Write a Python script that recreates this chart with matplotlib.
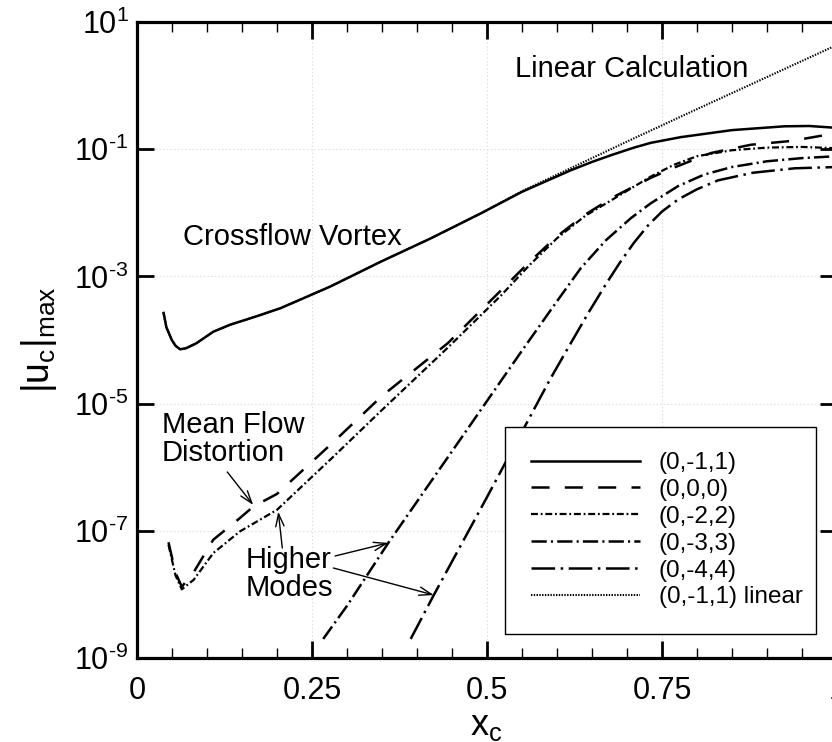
import numpy as np
import matplotlib.pyplot as plt
from matplotlib.ticker import FixedLocator, FixedFormatter, MultipleLocator

# Crossflow vortex amplitudes |u_c|_max vs x_c (log10 values)
x_011 = [0.038, 0.042, 0.0497, 0.055, 0.0616, 0.07, 0.085, 0.109, 0.133, 0.17, 0.205,
         0.276, 0.348, 0.42, 0.491, 0.55, 0.587, 0.62, 0.65, 0.681, 0.71, 0.734,
         0.777, 0.85, 0.925, 0.96, 1.0]
lg_011 = [-3.575, -3.80, -4.00, -4.09, -4.146, -4.13, -4.05, -3.87, -3.76, -3.63, -3.50,
          -3.16, -2.77, -2.40, -2.01, -1.67, -1.49, -1.33, -1.20, -1.08, -0.975, -0.90,
          -0.81, -0.70, -0.64, -0.635, -0.665]

x_lin = [0.038, 0.042, 0.0497, 0.055, 0.0616, 0.07, 0.085, 0.109, 0.133, 0.17, 0.205,
         0.276, 0.348, 0.42, 0.491, 0.55, 0.6, 0.65, 0.7, 0.8, 0.9, 1.0]
lg_lin = [-3.575, -3.80, -4.00, -4.09, -4.146, -4.13, -4.05, -3.87, -3.76, -3.63, -3.50,
          -3.16, -2.77, -2.40, -2.01, -1.66, -1.40, -1.14, -0.88, -0.37, 0.135, 0.64]

x_000 = [0.045, 0.055, 0.064, 0.081, 0.109, 0.147, 0.166, 0.2, 0.281, 0.35, 0.444, 0.52,
         0.56, 0.60, 0.64, 0.681, 0.734, 0.767, 0.82, 0.877, 0.935, 0.982, 1.0]
lg_000 = [-7.18, -7.66, -7.88, -7.65, -7.14, -6.80, -6.62, -6.42, -5.60, -4.88, -4.05, -3.22,
          -2.78, -2.37, -2.03, -1.75, -1.45, -1.29, -1.06, -0.93, -0.87, -0.78, -0.75]

x_022 = [0.045, 0.055, 0.064, 0.081, 0.109, 0.147, 0.2, 0.281, 0.35, 0.444, 0.52,
         0.56, 0.60, 0.64, 0.681, 0.734, 0.767, 0.80, 0.85, 0.9, 0.95, 1.0]
lg_022 = [-7.22, -7.70, -7.92, -7.77, -7.35, -7.01, -6.67, -5.83, -5.10, -4.12, -3.30,
          -2.83, -2.40, -2.05, -1.78, -1.43, -1.245, -1.11, -1.016, -0.975, -0.964, -0.985]

x_033 = [0.266, 0.30, 0.359, 0.45, 0.553, 0.60, 0.634, 0.67, 0.706, 0.734, 0.773, 0.81,
         0.85, 0.9, 0.95, 1.0]
lg_033 = [-8.70, -8.18, -7.19, -5.75, -4.12, -3.39, -2.87, -2.43, -2.08, -1.85, -1.58, -1.40,
          -1.28, -1.19, -1.14, -1.11]

x_044 = [0.391, 0.424, 0.5, 0.59, 0.616, 0.645, 0.67, 0.69, 0.71, 0.73, 0.75, 0.773,
         0.80, 0.83, 0.88, 0.94, 1.0]
lg_044 = [-8.70, -8.01, -6.47, -4.62, -4.12, -3.57, -3.12, -2.78, -2.47, -2.20, -1.98, -1.79,
          -1.63, -1.49, -1.37, -1.30, -1.28]

labels = ['(0,-1,1)', '(0,0,0)', '(0,-2,2)', '(0,-3,3)', '(0,-4,4)', '(0,-1,1) linear']
ytick_vals = [1e-9, 1e-7, 1e-5, 1e-3, 1e-1, 1e1]
ytick_text = [r'$\mathregular{10^{\text{-}9}}$', r'$\mathregular{10^{\text{-}7}}$',
              r'$\mathregular{10^{\text{-}5}}$', r'$\mathregular{10^{\text{-}3}}$',
              r'$\mathregular{10^{\text{-}1}}$', r'$\mathregular{10^{1}}$']
xtick_vals = [0, 0.25, 0.5, 0.75, 1.0]
xtick_text = ['0', '0.25', '0.5', '0.75', '1']

plt.rcParams['font.family'] = ['Liberation Sans', 'DejaVu Sans']
plt.rcParams['mathtext.fontset'] = 'custom'
plt.rcParams['mathtext.rm'] = 'Liberation Sans'
plt.rcParams['mathtext.it'] = 'Liberation Sans'
plt.rcParams['lines.scale_dashes'] = False

fig = plt.figure(figsize=(8.32, 7.42), dpi=100)
ax = fig.add_axes([137 / 832, 84 / 742, 700 / 832, 636 / 742])

def p(lg):
    return 10.0 ** np.array(lg)

ax.plot(x_011, p(lg_011), color='k', lw=1.8, label=labels[0])
ax.plot(x_000, p(lg_000), color='k', lw=1.8, dashes=(13, 11), label=labels[1])
ax.plot(x_022, p(lg_022), color='k', lw=1.6, dashes=(5, 2, 1.3, 2), label=labels[2])
ax.plot(x_033, p(lg_033), color='k', lw=1.8, dashes=(11, 3, 1.5, 3), label=labels[3])
ax.plot(x_044, p(lg_044), color='k', lw=1.8, dashes=(17, 4, 1.8, 4), label=labels[4])
ax.plot(x_lin, p(lg_lin), color='k', lw=1.5, dashes=(1.0, 1.0), label=labels[5])

ax.set_yscale('log')
ax.set_xlim(0, 1)
ax.set_ylim(1e-9, 1e1)
ax.yaxis.set_major_locator(FixedLocator(ytick_vals))
ax.yaxis.set_major_formatter(FixedFormatter(ytick_text))
ax.yaxis.set_minor_locator(FixedLocator([]))
ax.xaxis.set_major_locator(FixedLocator(xtick_vals))
ax.xaxis.set_major_formatter(FixedFormatter(xtick_text))
ax.xaxis.set_minor_locator(MultipleLocator(0.05))

ax.tick_params(which='both', direction='in', top=True, right=True, labelsize=22)
ax.tick_params(which='major', length=12, width=2.0)
ax.tick_params(which='minor', length=7, width=1)
ax.tick_params(axis='y', which='major', pad=6)
ax.tick_params(axis='x', which='major', pad=13)
for s in ax.spines.values():
    s.set_linewidth(2.3)
ax.grid(True, which='major', color='#dddddd', linestyle=':', lw=0.8)

fig.text(0.047, 0.542, r'$|\mathregular{u_c}|_\mathregular{max}$', rotation=90,
         ha='center', va='center', fontsize=27)
fig.text(0.585, 0.022, r'$\mathregular{x_c}$', ha='center', va='center', fontsize=26)

ax.text(0.54, 10 ** 0.26, 'Linear Calculation', fontsize=21, ha='left', va='center')
ax.text(0.0658, 10 ** -2.38, 'Crossflow Vortex', fontsize=21, ha='left', va='center')
ax.text(0.0358, 10 ** -5.556, 'Mean Flow\nDistortion', fontsize=21, ha='left', va='center',
        linespacing=0.97)
ax.text(0.1546, 10 ** -7.68, 'Higher\nModes', fontsize=21, ha='left', va='center',
        linespacing=0.97)

arw = dict(arrowstyle='->,head_length=0.9,head_width=0.3', lw=1.0, color='k',
           shrinkA=0, shrinkB=0)
ax.annotate('', xy=(0.166, 10 ** -6.594), xytext=(0.129, 10 ** -6.075), arrowprops=arw)
ax.annotate('', xy=(0.2018, 10 ** -6.70), xytext=(0.2076, 10 ** -7.27), arrowprops=arw)
ax.annotate('', xy=(0.359, 10 ** -7.19), xytext=(0.283, 10 ** -7.396), arrowprops=arw)
ax.annotate('', xy=(0.424, 10 ** -8.01), xytext=(0.2806, 10 ** -7.585), arrowprops=arw)

leg = ax.legend(loc='lower left', bbox_to_anchor=(368 / 700, 24 / 636, 311 / 700, 213 / 636),
                mode='expand', fontsize=17.5, handlelength=4.5, handletextpad=0.77,
                labelspacing=0.2, borderaxespad=0, fancybox=False, framealpha=1,
                edgecolor='k', borderpad=1.05)
leg.get_frame().set_linewidth(1.0)

fig.savefig('out.png', dpi=100)
